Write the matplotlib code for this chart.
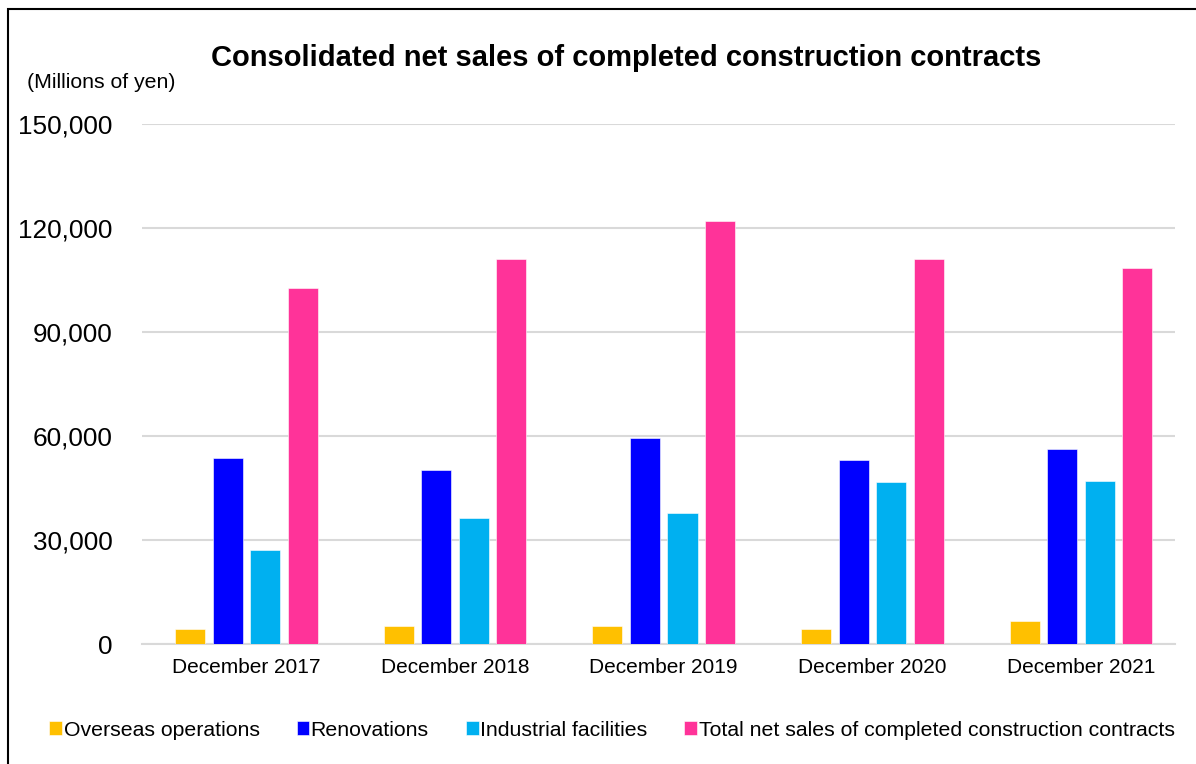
import numpy as np
import matplotlib.pyplot as plt
from matplotlib.patches import Rectangle

plt.rcParams['font.family'] = ['Liberation Sans', 'DejaVu Sans']

# values in millions of yen
years = ["December 2017", "December 2018", "December 2019", "December 2020", "December 2021"]
overseas = [4200, 5200, 5100, 4200, 6600]
renovations = [53700, 50200, 59400, 53100, 56200]
industrial = [27000, 36300, 37800, 46700, 47000]
total = [102700, 111000, 122000, 111100, 108500]

series_names = ["Overseas operations", "Renovations", "Industrial facilities",
                "Total net sales of completed construction contracts"]
colors = ["#FFC000", "#0000FF", "#00B0F0", "#FF3399"]
yticks = [0, 30000, 60000, 90000, 120000, 150000]

fig = plt.figure(figsize=(11.96, 7.64), dpi=100)
ax = fig.add_axes([142 / 1196, 120 / 764, 1033 / 1196, 520 / 764])

x = np.arange(len(years))
offsets = [-0.27, -0.09, 0.09, 0.27]
width = 0.144
for vals, off, c, name in zip([overseas, renovations, industrial, total], offsets, colors, series_names):
    ax.bar(x + off, vals, width, color=c, label=name, edgecolor='white', linewidth=0.4, zorder=3)

ax.set_xlim(-0.5, 4.45)
ax.set_ylim(0, 150000)
ax.set_yticks(yticks)
ax.set_yticklabels([f"{v:,}" for v in yticks], fontsize=18.8)
ax.set_xticks(x)
ax.set_xticklabels(years, fontsize=15)
ax.tick_params(length=0)
ax.tick_params(axis='y', pad=21)
ax.tick_params(axis='x', pad=10)
ax.grid(axis='y', color='#d9d9d9', linewidth=1.5, zorder=0)
for s in ['top', 'right', 'left']:
    ax.spines[s].set_visible(False)
ax.spines['bottom'].set_color('#d9d9d9')
ax.spines['bottom'].set_linewidth(1.5)

fig.text(626 / 1196, 1 - 58 / 764, "Consolidated net sales of completed construction contracts",
         fontsize=21, fontweight='bold', ha='center', va='center')
fig.text(27 / 1196, 1 - 83 / 764, "(Millions of yen)", fontsize=15.3, ha='left', va='center')

fig.legend(loc='center', bbox_to_anchor=(612 / 1196, 1 - 730 / 764), ncol=4, frameon=False,
           fontsize=15.3, handlelength=0.6, handleheight=0.6, handletextpad=0.06,
           columnspacing=1.75, borderaxespad=0)

# frame around the chart (only left and top edges are visible in the reference)
fig.patches.append(Rectangle((8 / 1196, -0.1), 1.2, 1 - 9 / 764 + 0.1, transform=fig.transFigure,
                             fill=False, edgecolor='black', linewidth=1.5))

fig.savefig("out.png", dpi=100)
